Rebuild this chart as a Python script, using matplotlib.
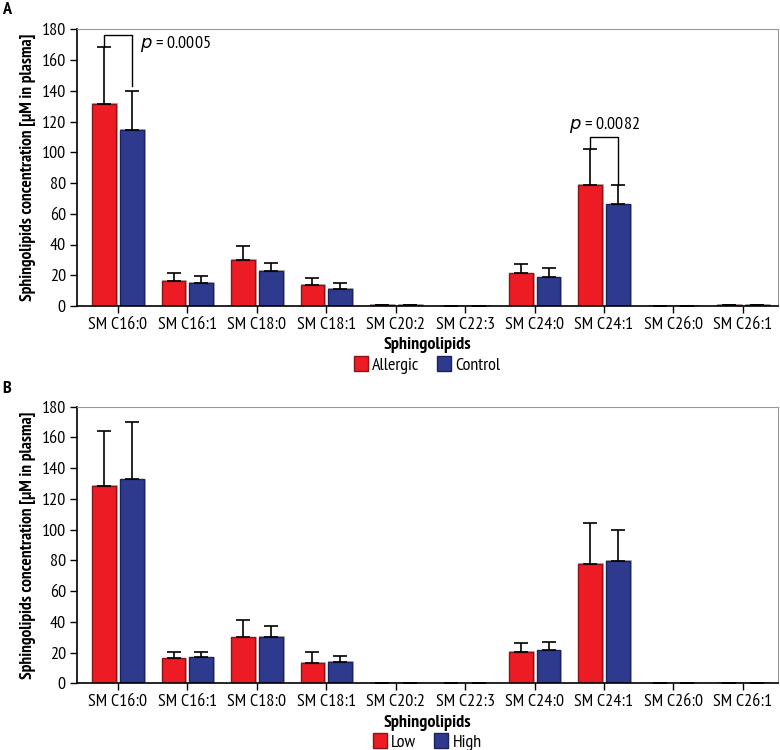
import matplotlib
matplotlib.use("Agg")
import matplotlib.pyplot as plt
import numpy as np
from matplotlib.patches import Patch
from matplotlib import font_manager as fm

_avail = set(f.name for f in fm.fontManager.ttflist)
_prefs = ["PT Sans Narrow", "Fira Sans Condensed", "Roboto Condensed", "Archivo Narrow",
          "Liberation Sans Narrow", "Open Sans Condensed", "Encode Sans Condensed",
          "Asap Condensed", "Barlow Semi Condensed"]
_font = next((p for p in _prefs if p in _avail), "DejaVu Sans")
plt.rcParams['font.family'] = [_font, 'DejaVu Sans']

categories = ["SM C16:0", "SM C16:1", "SM C18:0", "SM C18:1", "SM C20:2",
              "SM C22:3", "SM C24:0", "SM C24:1", "SM C26:0", "SM C26:1"]

# Panel A
allergic_mean = [131.5, 16.5, 29.9, 13.5, 0.5, 0.0, 21.2, 78.8, 0.0, 0.5]
allergic_err = [37.0, 4.7, 9.3, 5.0, 0.0, 0.0, 5.8, 23.6, 0.0, 0.0]
control_mean = [114.4, 15.0, 22.7, 11.0, 0.5, 0.0, 18.6, 66.1, 0.0, 0.5]
control_err = [25.6, 4.7, 5.4, 4.0, 0.0, 0.0, 5.9, 12.9, 0.0, 0.0]

# Panel B
low_mean = [128.3, 16.2, 29.9, 13.5, 0.5, 0.0, 20.5, 77.6, 0.0, 0.5]
low_err = [36.1, 4.4, 11.1, 6.9, 0.0, 0.0, 5.5, 26.7, 0.0, 0.0]
high_mean = [132.7, 16.9, 30.0, 14.0, 0.5, 0.0, 21.5, 79.6, 0.0, 0.5]
high_err = [37.5, 3.7, 7.5, 3.8, 0.0, 0.0, 5.5, 20.1, 0.0, 0.0]

yticks = [0, 20, 40, 60, 80, 100, 120, 140, 160, 180]

RED = "#ED1C24"
BLUE = "#2E3A8E"
RED_EDGE = "#8E1216"
BLUE_EDGE = "#1A2260"

fig = plt.figure(figsize=(7.8, 7.5), dpi=100)
axA = fig.add_axes([0.0987, 0.592, 0.8983, 0.369])
axB = fig.add_axes([0.0987, 0.0889, 0.8983, 0.3688])

x = np.arange(len(categories))
off = 0.2
w = 0.34


def draw(ax, m1, e1, m2, e2, labels):
    for xs, m, e, fc, ec in ((x - off, m1, e1, RED, RED_EDGE), (x + off, m2, e2, BLUE, BLUE_EDGE)):
        ax.bar(xs + 0.015, np.array(m) + 0.5, width=w + 0.03, color="#b8b8b8", zorder=1, linewidth=0)
        ax.bar(xs, m, width=w, color=fc, edgecolor=ec, linewidth=1.0, zorder=2)
        ee = np.array(e)
        ax.errorbar(xs, m, yerr=[np.zeros_like(ee), ee], fmt="none", ecolor="black",
                    elinewidth=1.2, capsize=4.7, capthick=1.2, zorder=3)
    ax.set_xlim(-0.59, 9.5)
    ax.set_ylim(0, 180)
    ax.set_yticks(yticks)
    ax.set_yticklabels([str(v) for v in yticks], fontsize=13, fontweight=500)
    ax.set_xticks(x)
    ax.set_xticklabels(categories, fontsize=13, fontweight=500)
    ax.tick_params(axis="both", direction="out", length=5, width=1.0, colors="black", pad=3)
    for s in ("left", "bottom"):
        ax.spines[s].set_color("black")
        ax.spines[s].set_linewidth(1.2)
    for s in ("top", "right"):
        ax.spines[s].set_color("#999999")
        ax.spines[s].set_linewidth(0.8)
    ax.set_ylabel("Sphingolipids concentration [µM in plasma]", fontsize=12.5, fontweight="bold",
                  labelpad=4)
    ax.set_xlabel("Sphingolipids", fontsize=13, fontweight="bold", labelpad=3)
    handles = [Patch(facecolor=RED, edgecolor=RED_EDGE, label=labels[0]),
               Patch(facecolor=BLUE, edgecolor=BLUE_EDGE, label=labels[1])]
    ax.legend(handles=handles, loc="upper center", bbox_to_anchor=(0.5, -0.18), ncol=2,
              frameon=False, prop={"size": 13, "weight": 500}, handlelength=0.75, handleheight=0.9,
              handletextpad=0.25, columnspacing=1.0, borderaxespad=0, borderpad=0)


draw(axA, allergic_mean, allergic_err, control_mean, control_err, ("Allergic", "Control"))
draw(axB, low_mean, low_err, high_mean, high_err, ("Low", "High"))


def bracket(ax, i, y, y1, y2, text, tx, ty, ha):
    x1, x2 = i - off, i + off
    ax.plot([x1, x1, x2, x2], [y1, y, y, y2], color="black", lw=1.0, zorder=4)
    ax.text(tx, ty, text, fontsize=13, ha=ha, va="center")


bracket(axA, 0, 176, allergic_mean[0] + allergic_err[0], 143, "$p$ = 0.0005", 0.32, 170.5, "left")
bracket(axA, 7, 110, allergic_mean[7] + allergic_err[7], control_mean[7] + control_err[7],
        "$p$ = 0.0082", 7.0, 117.5, "center")

fig.text(0.003, 0.997, "A", fontsize=13, fontweight="bold", va="top", ha="left")
fig.text(0.003, 0.492, "B", fontsize=13, fontweight="bold", va="top", ha="left")

fig.savefig("out.png", dpi=100)
